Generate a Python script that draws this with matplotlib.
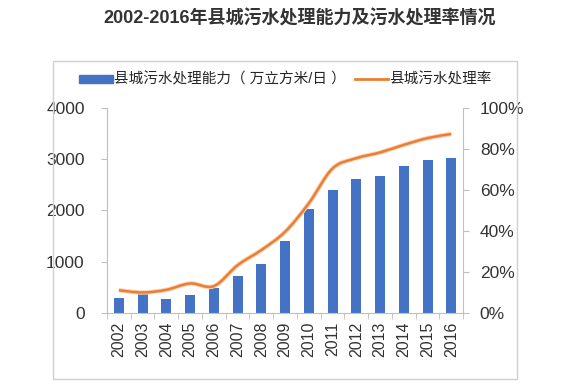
import matplotlib
matplotlib.use("Agg")
import matplotlib.pyplot as plt
from matplotlib.path import Path
from matplotlib.patches import PathPatch, Rectangle
from matplotlib.lines import Line2D
from matplotlib.ticker import FuncFormatter, FixedLocator

plt.rcParams['font.family'] = ['Liberation Sans', 'Noto Sans CJK SC', 'DejaVu Sans']

years = ['2002', '2003', '2004', '2005', '2006', '2007', '2008', '2009',
         '2010', '2011', '2012', '2013', '2014', '2015', '2016']
capacity = [300, 390, 270, 345, 485, 718, 953, 1409,
            2029, 2407, 2616, 2681, 2877, 2994, 3033]
rate = [11.1, 10.0, 11.3, 14.4, 13.1, 23.3, 30.7, 39.6,
        53.5, 70.5, 75.5, 78.3, 82.0, 85.3, 87.3]

title = '2002-2016年县城污水处理能力及污水处理率情况'
bar_label = '县城污水处理能力（ 万立方米/日 ）'
line_label = '县城污水处理率'

blue = '#4472C4'
orange = '#ED7D31'
grey_text = '#333333'
spine_c = '#bfbfbf'

fig = plt.figure(figsize=(5.69, 3.89), dpi=100)
fig.patch.set_facecolor('white')

# outer frame
fig.patches.append(Rectangle((0.0926, 0.0257), 0.816, 0.8183, transform=fig.transFigure,
                             fill=False, edgecolor='#d0d0d0', linewidth=1.0))

fig.text(0.527, 0.953, title, ha='center', va='center', fontsize=13,
         fontweight='bold', color='#333333')

ax = fig.add_axes([0.188, 0.1954, 0.626, 0.527])
x = list(range(len(years)))
ax.bar(x, capacity, width=0.42, color=blue, zorder=2)
ax.set_xlim(-0.5, len(years) - 0.5)
ax.set_ylim(0, 4000)
ax.set_yticks([0, 1000, 2000, 3000, 4000])
ax.set_xticks(x)
ax.set_xticklabels(years, rotation=90, fontsize=11.5, color=grey_text)
ax.xaxis.set_minor_locator(FixedLocator([i - 0.5 for i in range(len(years) + 1)]))
ax.tick_params(axis='x', which='major', length=0, pad=6)
ax.tick_params(axis='x', which='minor', length=4, color=spine_c, direction='out')
ax.tick_params(axis='y', labelsize=12.5, labelcolor=grey_text, length=4,
               color=spine_c, pad=12)
for s in ['top', 'right']:
    ax.spines[s].set_visible(False)
for s in ['left', 'bottom']:
    ax.spines[s].set_color(spine_c)

ax2 = ax.twinx()
ax2.set_ylim(0, 100)
ax2.set_yticks([0, 20, 40, 60, 80, 100])
ax2.yaxis.set_major_formatter(FuncFormatter(lambda v, p: f'{int(v)}%'))
ax2.tick_params(axis='y', labelsize=12.5, labelcolor=grey_text, length=4,
                color=spine_c, pad=8)
for s in ['top', 'left', 'bottom']:
    ax2.spines[s].set_visible(False)
ax2.spines['right'].set_color(spine_c)

# smoothed line (Catmull-Rom -> cubic Bezier), rendered by matplotlib Path
pts = list(zip(x, rate))
verts = [pts[0]]
codes = [Path.MOVETO]
n = len(pts)
for i in range(n - 1):
    p0 = pts[i - 1] if i > 0 else pts[i]
    p1 = pts[i]
    p2 = pts[i + 1]
    p3 = pts[i + 2] if i + 2 < n else pts[i + 1]
    t = 1 / 6
    c1 = (p1[0] + (p2[0] - p0[0]) * t, p1[1] + (p2[1] - p0[1]) * t)
    c2 = (p2[0] - (p3[0] - p1[0]) * t, p2[1] - (p3[1] - p1[1]) * t)
    verts += [c1, c2, p2]
    codes += [Path.CURVE4] * 3
path = Path(verts, codes)
ax2.add_patch(PathPatch(path, facecolor='none', edgecolor='#f8d3b6', linewidth=3.2, zorder=3))
ax2.add_patch(PathPatch(path, facecolor='none', edgecolor=orange, linewidth=1.8, zorder=4))

handles = [Rectangle((0, 0), 1, 1, color=blue),
           Line2D([0], [0], color=orange, linewidth=2)]
fig.legend(handles, [bar_label, line_label], loc='center', bbox_to_anchor=(0.502, 0.795),
           ncol=2, frameon=False, fontsize=10.5, handlelength=2.3, handleheight=0.5,
           handletextpad=0.1, columnspacing=0.6, labelcolor='#262626')

fig.savefig('out.png', dpi=100, facecolor='white')
